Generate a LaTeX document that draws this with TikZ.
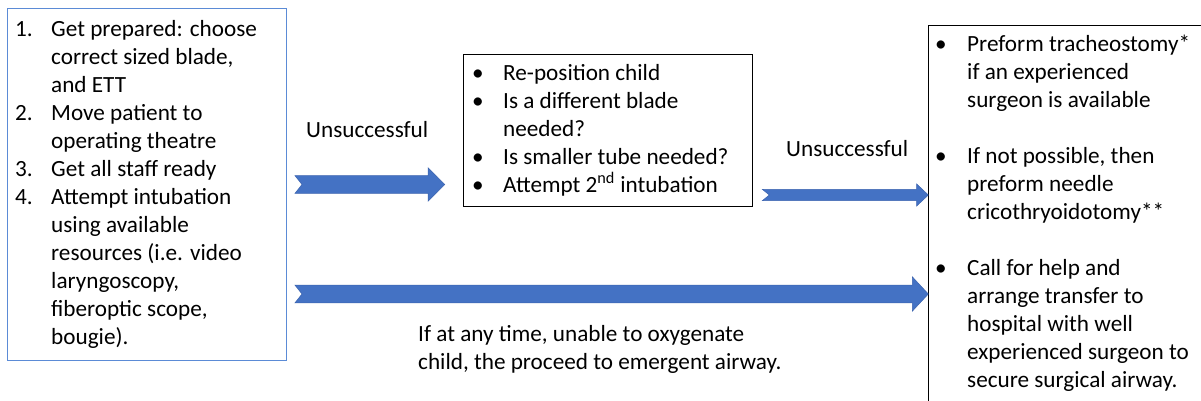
\documentclass[tikz,border=0pt]{standalone}
\usepackage{fontspec}
\setmainfont{Carlito}
\usetikzlibrary{calc,positioning}
\definecolor{arrowblue}{RGB}{68,114,196}
\definecolor{arrowedge}{RGB}{60,100,175}
\definecolor{boxblue}{RGB}{91,139,214}

% block arrow: tail, tip, half shaft, half head, head length
\newcommand{\fatarrow}[5]{%
	\filldraw[fill=arrowblue,draw=arrowedge,line width=0.5pt]
	($(#1)+(0,-#3)$) -- ($(#2)+(-#5,-#3)$) -- ($(#2)+(-#5,-#4)$) -- (#2)
	-- ($(#2)+(-#5,#4)$) -- ($(#2)+(-#5,#3)$) -- ($(#1)+(0,#3)$)
	-- ($(#1)+(7,0)$) -- cycle;}

\begin{document}
\begin{tikzpicture}[x=1pt,y=-1pt,
	txt/.style={anchor=north west,inner sep=0pt,font=\fontsize{23.2}{28}\selectfont},
	lbl/.style={anchor=base west,inner sep=0pt,font=\fontsize{23.2}{28}\selectfont}]
	\useasboundingbox (0,0) rectangle (1201,401);
	\clip (0,0) rectangle (1201,401);
	\fill[white] (0,0) rectangle (1201,401);

	% boxes
	\node (steps) at (6.5,8.3)[anchor=north west,draw=boxblue,line width=1pt,minimum width=279.5pt,minimum height=352pt] {};
	\node (retry) at (462.7,54)[anchor=north west,draw,line width=1pt,minimum width=289.6pt,minimum height=151.7pt] {};
	\node (surg) at (928.3,25)[anchor=north west,draw,line width=1pt,minimum width=300pt,minimum height=400pt] {};

	% texts
	\node (stepstxt) at (15,16.5)[txt] {\begin{tabular}{@{}p{36pt}@{}l@{}}
		1. & Get prepared: choose\\
		   & correct sized blade,\\
		   & and ETT\\
		2. & Move patient to\\
		   & operating theatre\\
		3. & Get all staff ready\\
		4. & Attempt intubation\\
		   & using available\\
		   & resources (i.e. video\\
		   & laryngoscopy,\\
		   & fiberoptic scope,\\
		   & bougie).
	\end{tabular}};
	\node (retrytxt) at (472,60.4)[txt] {\begin{tabular}{@{}p{31pt}@{}l@{}}
		\textbullet & Re-position child\\
		\textbullet & Is a different blade\\
		            & needed?\\
		\textbullet & Is smaller tube needed?\\
		\textbullet & Attempt 2\textsuperscript{nd} intubation
	\end{tabular}};
	\node (surgtxt) at (935,32.1)[txt] {\begin{tabular}{@{}p{32pt}@{}l@{}}
		\textbullet & Preform tracheostomy*\\
		            & if an experienced\\
		            & surgeon is available\\
		            & \\
		\textbullet & If not possible, then\\
		            & preform needle\\
		            & cricothryoidotomy**\\
		            & \\
		\textbullet & Call for help and\\
		            & arrange transfer to\\
		            & hospital with well\\
		            & experienced surgeon to\\
		            & secure surgical airway.
	\end{tabular}};
	\node (fail1) at (306,137)[lbl] {Unsuccessful};
	\node (fail2) at (786,156)[lbl] {Unsuccessful};
	\node (oxy) at (418,322.1)[txt] {\begin{tabular}{@{}l@{}}
		If at any time, unable to oxygenate\\
		child, the proceed to emergent airway.
	\end{tabular}};

	% arrows
	\coordinate (a1s) at (295,184.5);
	\coordinate (a1e) at (retry.west |- a1s);
	\coordinate (a2s) at (762.3,195);
	\coordinate (a2e) at (surg.west |- a2s);
	\coordinate (a3s) at (295,294);
	\coordinate (a3e) at (surg.west |- a3s);
	\fatarrow{a1s}{$(a1e)+(-18,0)$}{8.8}{16.7}{16.6}
	\fatarrow{a2s}{a2e}{5.7}{11}{11.6}
	\fatarrow{a3s}{a3e}{8.8}{17.2}{16}
\end{tikzpicture}
\end{document}
